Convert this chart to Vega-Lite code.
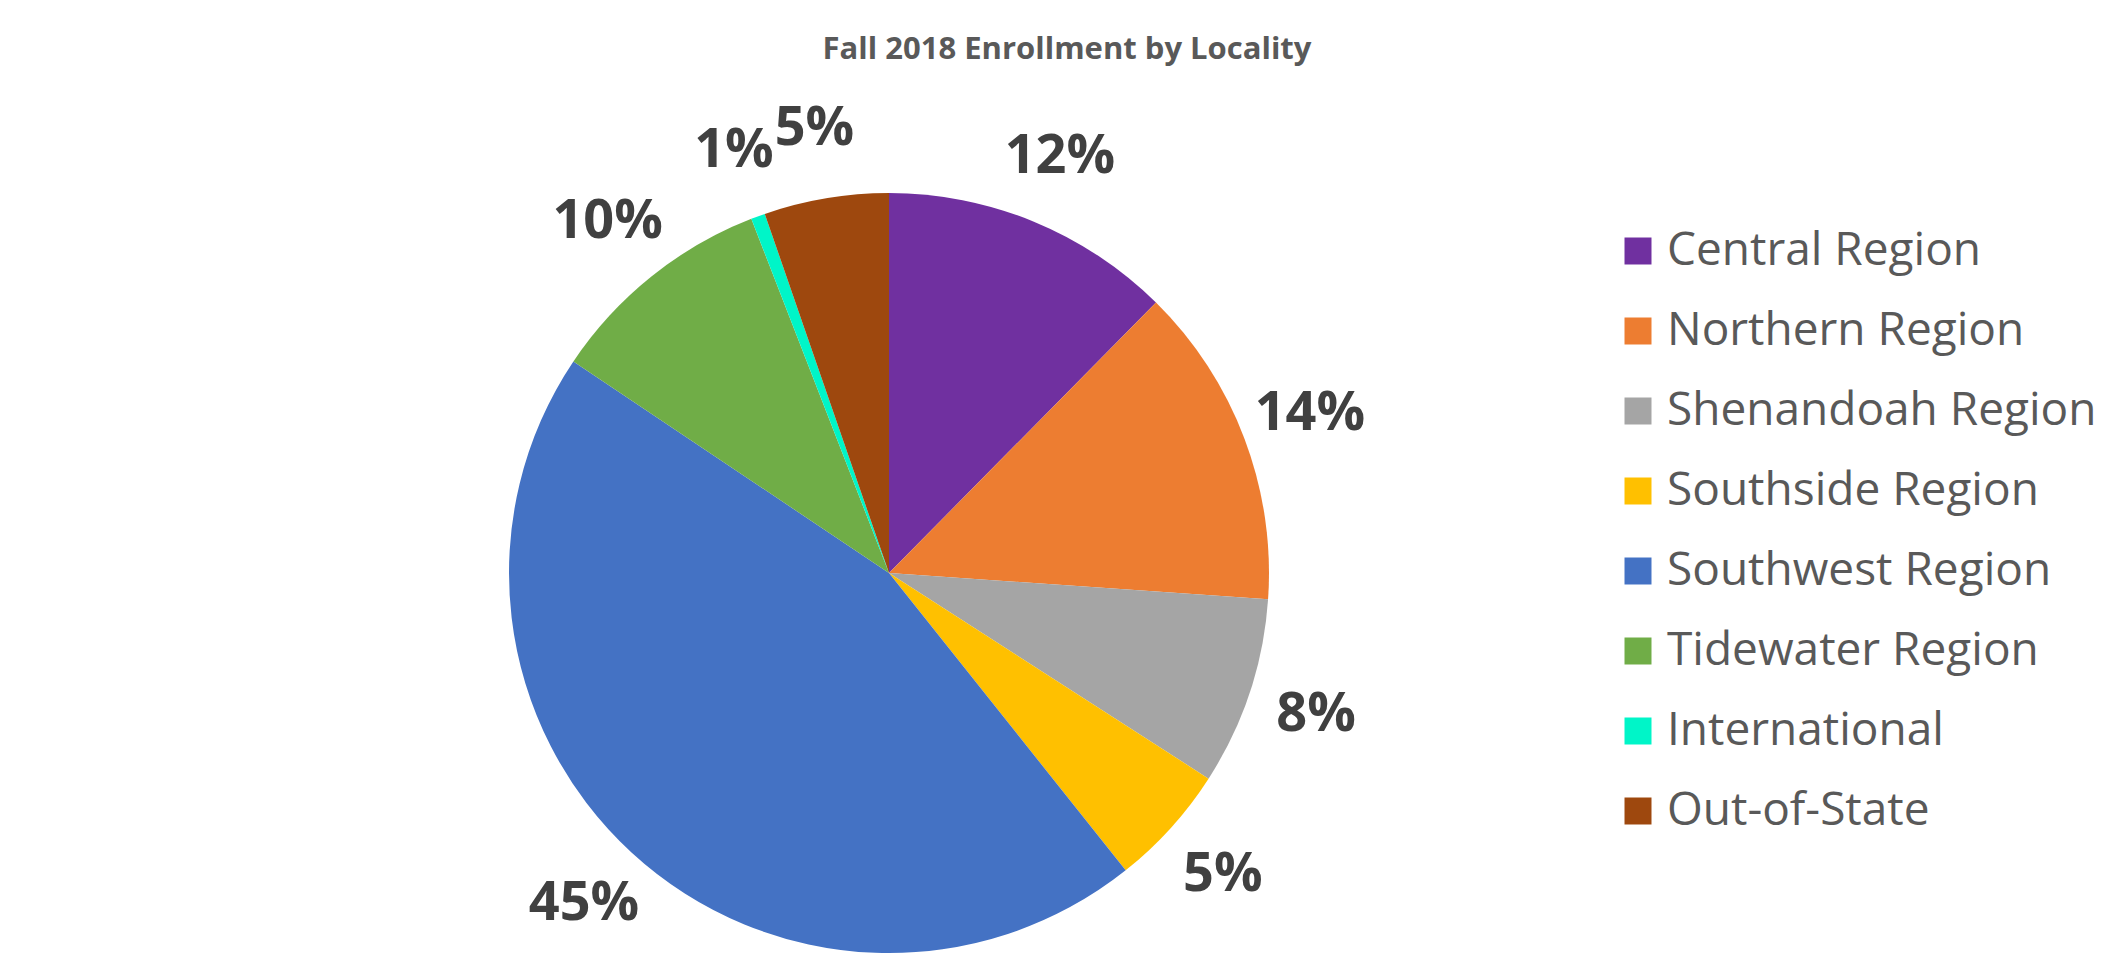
{
  "$schema": "https://vega.github.io/schema/vega-lite/v6.json",
  "autosize": {"type": "none"},
  "width": 1778,
  "height": 814,
  "padding": {"left": 0, "top": 166, "right": 335, "bottom": 0},
  "background": "white",
  "config": {"view": {"stroke": null}, "font": "Open Sans"},
  "title": {
    "text": "Fall 2018 Enrollment by Locality",
    "anchor": "middle",
    "frame": "group",
    "dx": 178,
    "offset": 36,
    "fontSize": 31,
    "fontWeight": "bold",
    "font": "Open Sans",
    "color": "#595959"
  },
  "data": {
    "values": [
      {"region": "Central Region", "share": 0.124},
      {"region": "Northern Region", "share": 0.137},
      {"region": "Shenandoah Region", "share": 0.080},
      {"region": "Southside Region", "share": 0.052},
      {"region": "Southwest Region", "share": 0.451},
      {"region": "Tidewater Region", "share": 0.097},
      {"region": "International", "share": 0.006},
      {"region": "Out-of-State", "share": 0.053}
    ]
  },
  "transform": [{"window": [{"op": "row_number", "as": "idx"}]}],
  "encoding": {
    "theta": {"field": "share", "type": "quantitative", "stack": true},
    "order": {"field": "idx", "type": "quantitative"}
  },
  "layer": [
    {
      "mark": {"type": "arc", "radius": 380},
      "encoding": {
        "color": {
          "field": "region",
          "type": "nominal",
          "sort": null,
          "scale": {
            "domain": ["Central Region", "Northern Region", "Shenandoah Region", "Southside Region", "Southwest Region", "Tidewater Region", "International", "Out-of-State"],
            "range": ["#7030A0", "#ED7D31", "#A5A5A5", "#FFC000", "#4472C4", "#70AD47", "#00F5C8", "#9E480E"]
          },
          "legend": {
            "title": null,
            "orient": "none",
            "legendX": 1615,
            "legendY": 62,
            "padding": 0,
            "symbolType": "square",
            "symbolSize": 729,
            "symbolStrokeWidth": 0,
            "labelFont": "Open Sans",
            "labelFontSize": 46,
            "labelColor": "#595959",
            "labelOffset": 6,
            "rowPadding": 34,
            "labelLimit": 600
          }
        }
      }
    },
    {
      "mark": {"type": "text", "radius": 450, "fontSize": 54, "fontWeight": "bold", "font": "Open Sans", "color": "#404040"},
      "encoding": {"text": {"field": "share", "type": "quantitative", "format": ".0%"}}
    }
  ]
}
